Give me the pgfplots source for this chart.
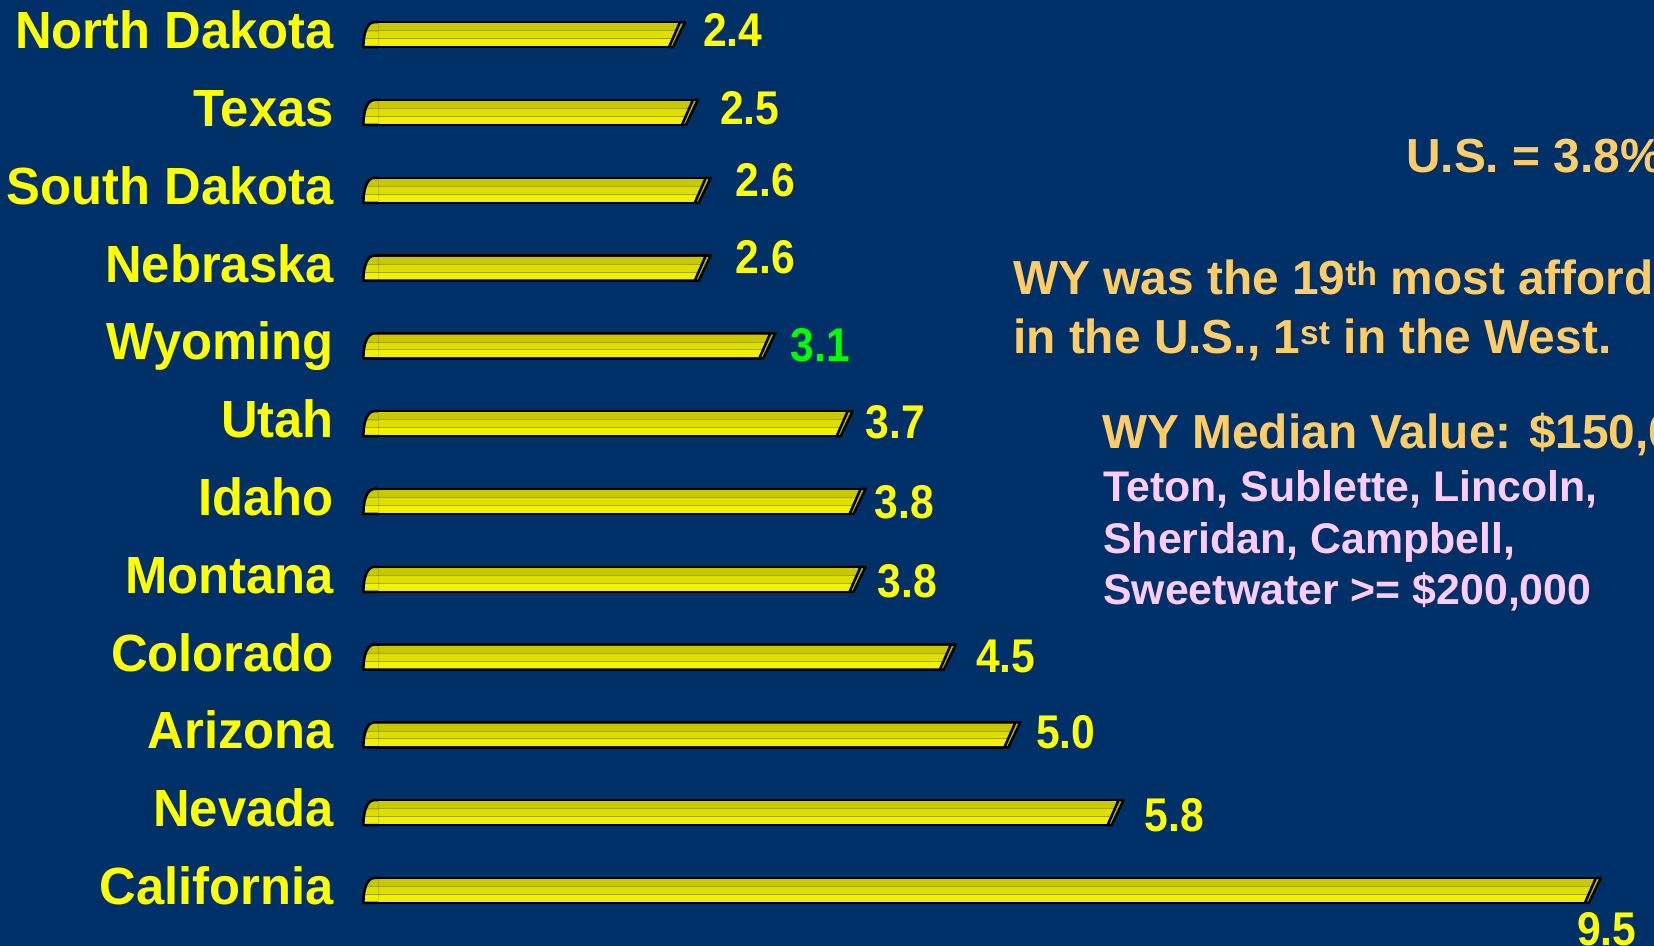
\documentclass[border=0pt]{standalone}
\usepackage{pgfplots}
\pgfplotsset{compat=1.18}
\usepackage{pgfplotstable}
\usepackage{fontspec}
\setmainfont{Liberation Sans}
\newfontfamily\statefont{Liberation Sans}[FakeStretch=0.97]
\newfontfamily\valfont{Liberation Sans}[FakeStretch=0.9]
\definecolor{bgblue}{HTML}{003068}
\definecolor{txtyellow}{HTML}{FFFF00}
\definecolor{txtgreen}{HTML}{00FF00}
\definecolor{txtorange}{HTML}{FFCC66}
\definecolor{txtpink}{HTML}{FFCCFF}
\definecolor{bartop}{HTML}{C8C800}
\definecolor{barmid}{HTML}{DEDE00}
\definecolor{barbot}{HTML}{F2F200}
\definecolor{barline}{HTML}{A8A800}
\definecolor{capface}{HTML}{B0AE20}

\pgfdeclareplotmark{lcap}{%
  \begin{scope}
    \clip (2.5bp,-12.5bp) -- (-12bp,-12.5bp) .. controls (-12bp,2bp) and (-8bp,12.5bp) .. (-1bp,12.5bp) -- (2.5bp,12.5bp) -- cycle;
    \fill[barmid] (-13bp,-13bp) rectangle (3bp,13bp);
    \fill[bartop] (-13bp,3.85bp) rectangle (3bp,13bp);
    \fill[barbot] (-13bp,-13bp) rectangle (3bp,-3.85bp);
    \draw[barline, line width=0.8bp] (-13bp,3.85bp) -- (3bp,3.85bp) (-13bp,-3.85bp) -- (3bp,-3.85bp);
  \end{scope}
  \draw[black, line width=2.5bp, line join=round] (2.5bp,-12.5bp) -- (-12bp,-12.5bp) .. controls (-12bp,2bp) and (-8bp,12.5bp) .. (-1bp,12.5bp) -- (2.5bp,12.5bp);
}
\pgfdeclareplotmark{rcap}{%
  \fill[bgblue] (0bp,12.5bp) -- (-12bp,-12.5bp) -- (-12bp,-15bp) -- (3bp,-15bp) -- (3bp,12.5bp) -- cycle;
  \filldraw[fill=capface, draw=black, line width=2.5bp, line join=round] (-5bp,12.5bp) -- (0bp,12.5bp) -- (-12bp,-12.5bp) -- (-16bp,-12.5bp) -- cycle;
}

% value labels: x, y = where each label's baseline starts
\pgfplotstableread{
lx ly lab
9.314 -0.707 9.5
5.963 0.756 5.8
5.120 1.820 5.0
4.655 2.807 4.5
3.893 3.769 3.8
3.870 4.781 3.8
3.801 5.807 3.7
2.790 7.936 2.6
2.790 8.923 2.6
2.671 9.846 2.5
2.540 10.846 2.4
}\labY
\pgfplotstableread{
lx ly lab
3.220 6.794 3.1
}\labG
\pgfplotstableread{
i v
0 9.5
1 5.8
2 5.0
3 4.5
4 3.8
5 3.8
6 3.7
7 3.1
8 2.6
9 2.6
10 2.5
11 2.4
}\bars

\begin{document}
\begin{tikzpicture}
\begin{axis}[
  scale only axis, width=1654bp, height=946bp,
  xmin=-2.910, xmax=9.912, ymin=-0.7134, ymax=11.446,
  enlargelimits=false, clip=false,
  axis line style={draw=none},
  axis background/.style={fill=bgblue},
  xtick=\empty,
  ytick={0,...,11},
  yticklabels={California,Nevada,Arizona,Colorado,Montana,Idaho,Utah,Wyoming,Nebraska,South Dakota,Texas,North Dakota},
  major tick length=0pt,
  yticklabel style={anchor=base east, inner sep=0pt, xshift=334bp, yshift=-14bp,
    font=\statefont\bfseries\fontsize{52.5}{60}\selectfont, text=txtyellow},
]
\coordinate (bl) at (rel axis cs:0,0);
\coordinate (tr) at (rel axis cs:1,1);
% bar body with outline
\addplot[xbar, bar shift=0pt, bar width=25bp, draw=black, line width=2.5bp, fill=barmid]
  table[x=v, y=i] {\bars};
% upper (darker) and lower (brighter) bands
\addplot[xbar, bar shift=7.55bp, bar width=7.4bp, draw=none, fill=bartop]
  table[x=v, y=i] {\bars};
\addplot[xbar, bar shift=-7.55bp, bar width=7.4bp, draw=none, fill=barbot]
  table[x=v, y=i] {\bars};
\addplot[xbar, bar shift=0pt, bar width=7.7bp, draw=barline, line width=0.8bp, fill=none]
  table[x=v, y=i] {\bars};
\addplot[only marks, mark=lcap] table[x expr=0, y=i] {\bars};
\addplot[only marks, mark=rcap] table[x=v, y=i] {\bars};
\addplot[draw=none, mark=none, point meta=explicit symbolic, nodes near coords,
  every node near coord/.append style={anchor=base west, inner sep=0pt, text=txtyellow,
    font=\valfont\bfseries\fontsize{47.5}{50}\selectfont}]
  table[x=lx, y=ly, meta=lab] {\labY};
\addplot[draw=none, mark=none, point meta=explicit symbolic, nodes near coords,
  every node near coord/.append style={anchor=base west, inner sep=0pt, text=txtgreen,
    font=\valfont\bfseries\fontsize{47.5}{50}\selectfont}]
  table[x=lx, y=ly, meta=lab] {\labG};

\node[anchor=base west, inner sep=0pt, text=txtorange, font=\bfseries\fontsize{48}{52}\selectfont]
  at (rel axis cs:0.8501,0.8176) {U.S. = 3.8\%};
\node[anchor=base west, inner sep=0pt, text=txtorange, font=\bfseries\fontsize{48}{52}\selectfont]
  at (rel axis cs:0.6125,0.6882) {WY was the 19\textsuperscript{th} most affordable state};
\node[anchor=base west, inner sep=0pt, text=txtorange, font=\bfseries\fontsize{48}{52}\selectfont]
  at (rel axis cs:0.6125,0.6268) {in the U.S., 1\textsuperscript{st} in the West.};
\node[anchor=base west, inner sep=0pt, text=txtorange, font=\bfseries\fontsize{48}{52}\selectfont]
  at (rel axis cs:0.6663,0.5259) {WY Median Value: \$150,000};
\node[anchor=base west, inner sep=0pt, text=txtpink, font=\bfseries\fontsize{43}{46}\selectfont]
  at (rel axis cs:0.6669,0.4697) {Teton, Sublette, Lincoln,};
\node[anchor=base west, inner sep=0pt, text=txtpink, font=\bfseries\fontsize{43}{46}\selectfont]
  at (rel axis cs:0.6669,0.4151) {Sheridan, Campbell,};
\node[anchor=base west, inner sep=0pt, text=txtpink, font=\bfseries\fontsize{43}{46}\selectfont]
  at (rel axis cs:0.6669,0.3605) {Sweetwater >= \$200,000};
\end{axis}
\pgfresetboundingbox
\path[use as bounding box] (bl) rectangle (tr);
\end{tikzpicture}
\end{document}
